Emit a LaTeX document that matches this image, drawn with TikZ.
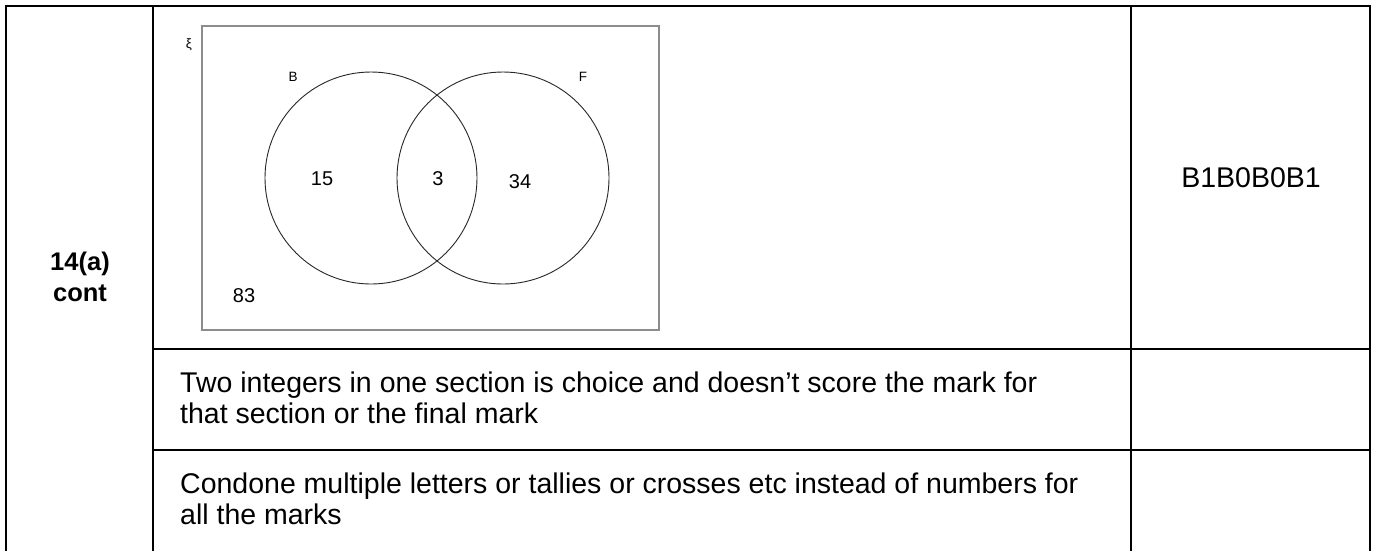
\documentclass[tikz,border=0pt]{standalone}
\usepackage{fontspec}
\setmainfont{Liberation Sans}
\begin{document}
\begin{tikzpicture}[x=1pt,y=-1pt,
  rule/.style={line width=2.8pt,line cap=rect},
  venn/.style={line width=0.9pt,black!85},
  ubox/.style={line width=1.6pt,draw=black!45},
  body/.style={font=\fontsize{28.5}{31.5}\selectfont,inner sep=0pt,anchor=base west},
  vlab/.style={font=\fontsize{13.5}{15}\selectfont,inner sep=0pt},
  vnum/.style={font=\fontsize{20}{22}\selectfont,inner sep=0pt}]
\useasboundingbox (0,0) rectangle (1373,550);
\fill[white] (0,0) rectangle (1373,550);
% table
\draw[rule] (6,6) -- (1370,6);
\draw[rule] (6,6) -- (6,552);
\draw[rule] (153,6) -- (153,552);
\draw[rule] (1131,6) -- (1131,552);
\draw[rule] (1370,6) -- (1370,552);
\draw[rule] (153,349) -- (1370,349);
\draw[rule] (153,450) -- (1370,450);
% left column
\node[font=\bfseries\fontsize{25.5}{31}\selectfont,align=center,inner sep=0pt] (q) at (80,277) {14(a)\\cont};
% mark
\node[font=\fontsize{28.5}{31}\selectfont,inner sep=0pt,anchor=base] (mk) at (1251,187) {B1B0B0B1};
% venn
\draw[ubox] (202,26) rectangle (659,330);
\node[vlab] (xi) at (189,45) {ξ};
\draw[venn] (371,178) circle (106);
\draw[venn] (503,178) circle (106);
\node[vlab] (B) at (293,77) {B};
\node[vlab] (F) at (583,77) {F};
\node[vnum] (n15) at (322,179) {15};
\node[vnum] (n3) at (438,179) {3};
\node[vnum] (n34) at (520,182) {34};
\node[vnum] (n83) at (244,296) {83};
% notes
\node[body] (r2a) at (180,392) {Two integers in one section is choice and doesn’t score the mark for};
\node[body] (r2b) at (180,423.5) {that section or the final mark};
\node[body] (r3a) at (180,493) {Condone multiple letters or tallies or crosses etc instead of numbers for};
\node[body] (r3b) at (180,524.5) {all the marks};
\end{tikzpicture}
\end{document}
